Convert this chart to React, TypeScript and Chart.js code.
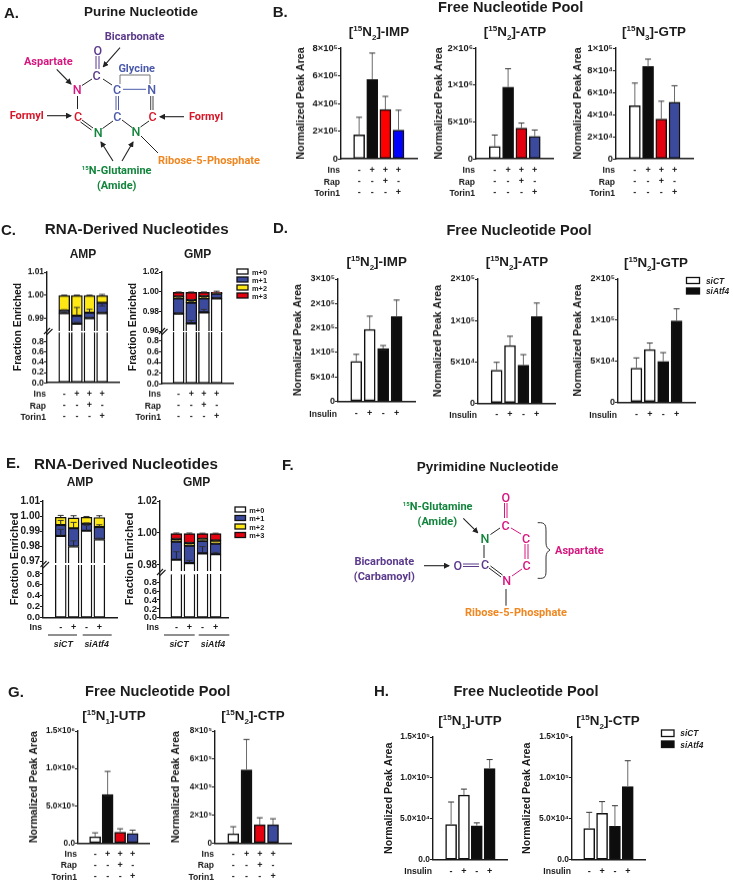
import React, { useEffect, useRef } from "react";
import { Chart, registerables } from "chart.js";

Chart.register(...registerables);

const FONT = '"Liberation Sans", Arial, sans-serif';
const INK = "#1a1a1a";
const WHITE = "#ffffff";
const BLACK = "#0d0d0d";
const RED = "#e3000f";
const PURE_RED = "#ff0000";
const INDIGO = "#3c4a9e";
const PURE_BLUE = "#0000ff";
const YELLOW = "#ffe814";

const insRows = [["-", "-", "-"], ["+", "-", "-"], ["+", "+", "-"], ["+", "-", "+"]];
const insulinRows = ["-", "+", "-", "+"];
const treatmentNames = ["Ins", "Rap", "Torin1"];
const insulinNames = ["Insulin"];
const insNames = ["Ins"];

// Panel B
const bImp = [172000, 573000, 356000, 208000];
const bImpErr = [300000, 764000, 451000, 351000];
const bAtp = [166000, 972000, 416000, 305000];
const bAtpErr = [322000, 1220000, 484000, 390000];
const bGtp = [48000, 83300, 35800, 51000];
const bGtpErr = [68400, 90000, 52000, 66000];
// Panel D
const dImp = [81500, 147000, 108000, 173000];
const dImpErr = [96000, 174000, 114000, 207000];
const dAtp = [39600, 69500, 45700, 104700];
const dAtpErr = [49300, 80800, 58600, 121000];
const dGtp = [41200, 64000, 49700, 99000];
const dGtpErr = [53800, 72000, 60300, 113700];
// Panel G
const gUtp = [85000, 652000, 147000, 129000];
const gUtpErr = [138000, 960000, 192000, 174000];
const gCtp = [67000, 523000, 131000, 131000];
const gCtpErr = [117000, 740000, 181000, 174000];
// Panel H
const hUtp = [43000, 79000, 41400, 111500];
const hUtpErr = [70500, 86300, 45000, 122400];
const hCtp = [38000, 56700, 40800, 89300];
const hCtpErr = [57900, 71000, 66000, 121000];

// Isotopologue fractions
const cAmp = [[0.9924, 0.9878, 0.9902, 0.9924], [0.001, 0.0034, 0.0023, 0.0044], [0.0065, 0.0087, 0.0074, 0.0031]];
const cAmpErr = [[0.9928, 0.9885, 0.9906, 0.9927], [0.9938, 0.9948, 0.994, 0.9954], [1.0001, 1.0001, 1.0001, 1.0004]];
const cGmp = [[0.9776, 0.9678, 0.979, 0.9932], [0.0156, 0.021, 0.0142, 0.0048], [0.0017, 0.0027, 0.0021, 0.0003], [0.0044, 0.0078, 0.004, 0.001]];
const cGmpErr = [[0.9782, 0.9708, 0.982, 0.9937], [0.9938, 0.9898, 0.9938, 0.9985], [0.9952, 0.9921, 0.9958, 0.9985], [0.9997, 0.9997, 0.9997, 1.0005]];
const eAmp = [[0.987, 0.98, 0.9904, 0.9846], [0.0071, 0.012, 0.0046, 0.0082], [0.0052, 0.0069, 0.0043, 0.0063]];
const eAmpErr = [[0.9913, 0.9837, 0.9939, 0.9855], [0.9972, 0.9959, 0.9955, 0.9943], [1.0005, 1.0003, 0.9998, 1.0003]];
const eGmp = [[0.9833, 0.9812, 0.9873, 0.9867], [0.0113, 0.0109, 0.0077, 0.0066], [0.0014, 0.0016, 0.0012, 0.0019], [0.0036, 0.0059, 0.0034, 0.0044]];
const eGmpErr = [[0.9883, 0.9829, 0.9915, 0.9879], [0.995, 0.9925, 0.9955, 0.9936], [0.9967, 0.9942, 0.9968, 0.9956], [1, 1, 0.9999, 0.9999]];
const massLabels = ["m+0", "m+1", "m+2", "m+3"];
const massColors = [WHITE, INDIGO, YELLOW, RED];

const lowerTicks = [0, 0.2, 0.4, 0.6, 0.8];
const lowerLabels = ["0.0", "0.2", "0.4", "0.6", "0.8"];

const treatColors = [WHITE, BLACK, RED, INDIGO];
const atf4Colors = [WHITE, WHITE, BLACK, BLACK];

type Simple = {
  rect: number[]; centers: number[]; titleX: number; yMax: number; ticks: number[]; labels: string[];
  values: number[]; err: number[]; colors: string[]; rows: any[]; names: string[]; rowY: number; tickSize: number;
};

const simplePanels: Simple[] = [
  { rect: [341, 48, 417, 159], centers: [352.5, 405], titleX: 301.3, yMax: 800000, ticks: [0, 200000, 400000, 600000, 800000], labels: ["0", "2×10⁵", "4×10⁵", "6×10⁵", "8×10⁵"], values: bImp, err: bImpErr, colors: [WHITE, BLACK, PURE_RED, PURE_BLUE], rows: insRows, names: treatmentNames, rowY: 170, tickSize: 9.4 },
  { rect: [476, 48, 553, 159], centers: [488.2, 541.5], titleX: 439.3, yMax: 1500000, ticks: [0, 500000, 1000000, 1500000], labels: ["0", "5×10⁵", "1×10⁶", "2×10⁶"], values: bAtp, err: bAtpErr, colors: treatColors, rows: insRows, names: treatmentNames, rowY: 170, tickSize: 9.4 },
  { rect: [616, 48, 693, 159], centers: [628.3, 681.2], titleX: 578.3, yMax: 100000, ticks: [0, 20000, 40000, 60000, 80000, 100000], labels: ["0", "2×10⁴", "4×10⁴", "6×10⁴", "8×10⁴", "1×10⁵"], values: bGtp, err: bGtpErr, colors: treatColors, rows: insRows, names: treatmentNames, rowY: 170, tickSize: 9.4 },
  { rect: [338, 279, 415, 401], centers: [349.5, 403.3], titleX: 298.3, yMax: 250000, ticks: [0, 50000, 100000, 150000, 200000, 250000], labels: ["0", "5×10⁴", "1×10⁵", "2×10⁵", "2×10⁵", "3×10⁵"], values: dImp, err: dImpErr, colors: atf4Colors, rows: insulinRows, names: insulinNames, rowY: 413.3, tickSize: 9 },
  { rect: [478, 279, 555, 403], centers: [490, 543.5], titleX: 438.3, yMax: 150000, ticks: [0, 50000, 100000, 150000], labels: ["0", "5×10⁴", "1×10⁵", "2×10⁵"], values: dAtp, err: dAtpErr, colors: atf4Colors, rows: insulinRows, names: insulinNames, rowY: 414.5, tickSize: 9 },
  { rect: [618, 279, 695, 402], centers: [629.7, 683.3], titleX: 578.3, yMax: 150000, ticks: [0, 50000, 100000, 150000], labels: ["0", "5×10⁴", "1×10⁵", "2×10⁵"], values: dGtp, err: dGtpErr, colors: atf4Colors, rows: insulinRows, names: insulinNames, rowY: 414.5, tickSize: 9 },
  { rect: [78, 731, 149, 843], centers: [89, 139], titleX: 34, yMax: 1500000, ticks: [0, 500000, 1000000, 1500000], labels: ["0.0", "5.0×10⁵", "1.0×10⁶", "1.5×10⁶"], values: gUtp, err: gUtpErr, colors: treatColors, rows: insRows, names: treatmentNames, rowY: 853.7, tickSize: 8.2 },
  { rect: [215, 731, 291, 843], centers: [226.7, 279.7], titleX: 176, yMax: 800000, ticks: [0, 200000, 400000, 600000, 800000], labels: ["0", "2×10⁵", "4×10⁵", "6×10⁵", "8×10⁵"], values: gCtp, err: gCtpErr, colors: treatColors, rows: insRows, names: treatmentNames, rowY: 853.7, tickSize: 8.2 },
  { rect: [433, 737, 507, 860], centers: [444.8, 496.2], titleX: 389.3, yMax: 150000, ticks: [0, 50000, 100000, 150000], labels: ["0.0", "5.0×10⁴", "1.0×10⁵", "1.5×10⁵"], values: hUtp, err: hUtpErr, colors: atf4Colors, rows: insulinRows, names: insulinNames, rowY: 872, tickSize: 8.4 },
  { rect: [572, 737, 645, 860], centers: [582.8, 634.2], titleX: 527.7, yMax: 150000, ticks: [0, 50000, 100000, 150000], labels: ["0.0", "5.0×10⁴", "1.0×10⁵", "1.5×10⁵"], values: hCtp, err: hCtpErr, colors: atf4Colors, rows: insulinRows, names: insulinNames, rowY: 872, tickSize: 8.4 },
];

type Broken = {
  upper: number[]; lower: number[]; centers: number[]; upperMin: number; upperMax: number; lowerMax: number;
  ticks: number[]; labels: string[]; seg: number[][]; segErr: number[][]; rows: any[]; names: string[]; rowY: number; tickSize: number; lowerSize: number;
};

const brokenPanels: Broken[] = [
  { upper: [47, 272, 119, 330.5], lower: [47, 332, 119, 383], centers: [58, 108.5], upperMin: 0.9847, upperMax: 1.01, lowerMax: 0.995, ticks: [0.99, 1, 1.01], labels: ["0.99", "1.00", "1.01"], seg: cAmp, segErr: cAmpErr, rows: insRows, names: treatmentNames, rowY: 394, tickSize: 8.4, lowerSize: 8.8 },
  { upper: [162, 272, 233, 331], lower: [162, 332, 233, 384], centers: [172.3, 223], upperMin: 0.96, upperMax: 1.02, lowerMax: 0.969, ticks: [0.96, 0.98, 1, 1.02], labels: ["0.96", "0.98", "1.00", "1.02"], seg: cGmp, segErr: cGmpErr, rows: insRows, names: treatmentNames, rowY: 394, tickSize: 8.4, lowerSize: 8.8 },
  { upper: [43, 501, 117, 563], lower: [43, 565, 117, 618], centers: [54.3, 105.8], upperMin: 0.9691, upperMax: 1.01, lowerMax: 0.962, ticks: [0.97, 0.98, 0.99, 1, 1.01], labels: ["0.97", "0.98", "0.99", "1.00", "1.01"], seg: eAmp, segErr: eAmpErr, rows: insulinRows, names: insNames, rowY: 628, tickSize: 10, lowerSize: 9.6 },
  { upper: [160, 501, 228, 571], lower: [160, 573, 228, 618], centers: [170.5, 222.8], upperMin: 0.97625, upperMax: 1.02, lowerMax: 1.01, ticks: [0.98, 1, 1.02], labels: ["0.98", "1.00", "1.02"], seg: eGmp, segErr: eGmpErr, rows: insulinRows, names: insNames, rowY: 628, tickSize: 10, lowerSize: 9.6 },
];

const errorBars = {
  id: "errorBars",
  afterDatasetsDraw(chart: any) {
    const { ctx, chartArea: a } = chart;
    const xs = chart.scales.x;
    const ys = chart.scales.y;
    ctx.save();
    ctx.beginPath();
    ctx.rect(a.left, a.top - 4, a.right - a.left, a.bottom - a.top + 4);
    ctx.clip();
    chart.data.datasets.forEach((ds: any, di: number) => {
      if (!ds.errTop) return;
      ds.errTop.forEach((top: number, i: number) => {
        const x = xs.getPixelForValue(i);
        let base = ds.data[i];
        if (ds.stack) for (let k = 0; k < di; k++) base += chart.data.datasets[k].data[i];
        ctx.strokeStyle = ds.stack ? "#222" : "#6b6b6b";
        ctx.lineWidth = 1;
        ctx.beginPath();
        ctx.moveTo(x, ys.getPixelForValue(base));
        ctx.lineTo(x, ys.getPixelForValue(top));
        ctx.stroke();
        ctx.strokeStyle = "#333";
        ctx.beginPath();
        ctx.moveTo(x - 3, ys.getPixelForValue(top));
        ctx.lineTo(x + 3, ys.getPixelForValue(top));
        ctx.stroke();
      });
    });
    ctx.restore();
  },
};

const LINE = 11.3;

const rowTitles = (names: string[], rowY: number) => ({
  id: "rowTitles",
  afterDraw(chart: any) {
    const { ctx } = chart;
    const first = rowY - chart.canvas.offsetTop;
    ctx.save();
    ctx.font = `bold 8.6px ${FONT}`;
    ctx.fillStyle = INK;
    ctx.textAlign = "right";
    ctx.textBaseline = "middle";
    names.forEach((n, i) => ctx.fillText(n, chart.chartArea.left - 1, first + i * LINE));
    ctx.restore();
  },
});

function xRange(rect: number[], centers: number[]) {
  const sp = (centers[1] - centers[0]) / 3;
  return { min: (rect[0] - centers[0]) / sp, max: (rect[2] - centers[0]) / sp };
}

function yScale(min: number, max: number, ticks: number[], labels: string[], width: number, size: number, title?: any) {
  return {
    type: "linear",
    min,
    max,
    stacked: false,
    afterBuildTicks: (s: any) => { s.ticks = ticks.map((value) => ({ value })); },
    afterFit: (s: any) => { s.width = width; },
    border: { display: true, color: INK, width: 1.4 },
    grid: { drawOnChartArea: false, drawTicks: true, tickLength: 3, tickColor: INK, tickWidth: 1.2 },
    ticks: {
      autoSkip: false, padding: 0, color: INK, maxRotation: 0, minRotation: 0,
      font: { family: FONT, size, weight: "bold" },
      callback: (_: any, i: number) => labels[i],
    },
    title,
  };
}

function xScale(rect: number[], centers: number[], rows: any[], rowY: number, height: number) {
  return {
    type: "linear",
    ...xRange(rect, centers),
    stacked: false,
    afterBuildTicks: (s: any) => { s.ticks = rows.map((_, value) => ({ value })); },
    afterFit: (s: any) => { s.height = height; },
    border: { display: true, color: INK, width: 1.4 },
    grid: { display: false, drawTicks: false },
    ticks: {
      autoSkip: false, maxRotation: 0, minRotation: 0, color: INK,
      padding: rowY - rect[3] - LINE / 2,
      font: { family: FONT, size: 9, weight: "bold", lineHeight: `${LINE}px` },
      callback: (_: any, i: number) => rows[i],
    },
  };
}

function simpleSpec(p: Simple) {
  const [l, t, r, b] = p.rect;
  const cx = Math.floor(p.titleX - 7);
  const cy = t - 8;
  const cw = r + 8 - cx;
  const ch = p.rowY + p.rows[0].length * LINE + 4 - cy;
  const yw = l - cx;
  const barT = 11;
  return {
    style: { left: cx, top: cy, width: cw, height: ch },
    config: {
      type: "bar",
      data: {
        labels: p.rows.map((_, i) => i),
        datasets: [{
          data: p.values, errTop: p.err, backgroundColor: p.colors, borderColor: "#111", borderWidth: 1.5,
          borderSkipped: false, barThickness: barT, clip: 0,
        }],
      },
      options: {
        animation: false, responsive: false, devicePixelRatio: 1,
        layout: { padding: { top: 8, right: 8, left: 0, bottom: 0 } },
        plugins: { legend: { display: false }, tooltip: { enabled: false } },
        scales: {
          x: xScale(p.rect, p.centers, p.rows, p.rowY, ch - (b - cy)),
          y: yScale(0, p.yMax, p.ticks, p.labels, yw, p.tickSize, {
            display: true, text: "Normalized Peak Area", color: INK, padding: { top: p.titleX - cx - 6.6, bottom: 0 },
            font: { family: FONT, size: 10.6, weight: "bold", lineHeight: 1.2 },
          }),
        },
      },
      plugins: [errorBars, rowTitles(p.names, p.rowY)],
    },
  };
}

function upperSpec(p: Broken) {
  const [l, t, r, b] = p.upper;
  const cx = 20;
  const cy = t - 8;
  const ch = b + 8 - cy;
  const cw = r + 8 - cx;
  const datasets = p.seg.map((values, i) => ({
    data: values, errTop: p.segErr[i], stack: "iso", backgroundColor: massColors[i], borderColor: "#111", borderWidth: 1.4,
    borderSkipped: false, barThickness: 11, clip: 0, label: massLabels[i],
  }));
  const x: any = xScale(p.upper, p.centers, p.rows, p.rowY, 0);
  x.display = false;
  x.stacked = true;
  const y: any = yScale(p.upperMin, p.upperMax, p.ticks, p.labels, l - cx, p.tickSize);
  y.stacked = true;
  return {
    style: { left: cx, top: cy, width: cw, height: ch },
    config: {
      type: "bar",
      data: { labels: p.rows.map((_, i) => i), datasets },
      options: {
        animation: false, responsive: false, devicePixelRatio: 1,
        layout: { padding: { top: 8, right: 8, left: 0, bottom: 8 } },
        plugins: { legend: { display: false }, tooltip: { enabled: false } },
        scales: { x, y },
      },
      plugins: [errorBars],
    },
  };
}

function lowerSpec(p: Broken) {
  const [l, t, r, b] = p.lower;
  const cx = 20;
  const cy = t - 8;
  const ch = p.rowY + p.rows[0].length * LINE + 4 - cy;
  const cw = r + 8 - cx;
  return {
    style: { left: cx, top: cy, width: cw, height: ch },
    config: {
      type: "bar",
      data: {
        labels: p.rows.map((_, i) => i),
        datasets: [{
          data: p.seg[0], backgroundColor: WHITE, borderColor: "#111", borderWidth: 1.4,
          borderSkipped: "top", barThickness: 11, clip: 0,
        }],
      },
      options: {
        animation: false, responsive: false, devicePixelRatio: 1,
        layout: { padding: { top: 8, right: 8, left: 0, bottom: 0 } },
        plugins: { legend: { display: false }, tooltip: { enabled: false } },
        scales: {
          x: xScale(p.lower, p.centers, p.rows, p.rowY, ch - (b - cy)),
          y: yScale(0, p.lowerMax, lowerTicks, lowerLabels, l - cx, p.lowerSize),
        },
      },
      plugins: [rowTitles(p.names, p.rowY)],
    },
  };
}

function ChartBox({ spec }: { spec: any }) {
  const ref = useRef<HTMLCanvasElement>(null);
  useEffect(() => {
    const chart = new Chart(ref.current as any, spec.config);
    return () => chart.destroy();
  }, [spec]);
  return <canvas ref={ref} width={spec.style.width} height={spec.style.height} style={{ position: "absolute", ...spec.style }} />;
}

const specs = [
  ...simplePanels.map(simpleSpec),
  ...brokenPanels.map(upperSpec),
  ...brokenPanels.map(lowerSpec),
];

function Label({ x, y, size, children, align = "center", color = "#1c1c1c" }: any) {
  const tx = align === "center" ? "-50%" : "0";
  return (
    <div style={{ position: "absolute", left: x, top: y, transform: `translate(${tx},-50%)`, whiteSpace: "nowrap", fontFamily: FONT, fontWeight: 700, fontSize: size, color, lineHeight: 1 }}>
      {children}
    </div>
  );
}

const iso = (n: string, name: string) => (
  <>
    [<sup style={{ fontSize: "60%", lineHeight: 0 }}>15</sup>N<sub style={{ fontSize: "60%", lineHeight: 0 }}>{n}</sub>]-{name}
  </>
);

const titles = [
  { x: 379, y: 32, n: "2", name: "IMP" }, { x: 515, y: 32, n: "2", name: "ATP" }, { x: 654, y: 32, n: "3", name: "GTP" },
  { x: 376.7, y: 262, n: "2", name: "IMP" }, { x: 517, y: 262, n: "2", name: "ATP" }, { x: 656, y: 263, n: "2", name: "GTP" },
  { x: 114, y: 716, n: "1", name: "UTP" }, { x: 253, y: 716, n: "2", name: "CTP" },
  { x: 470, y: 721, n: "1", name: "UTP" }, { x: 608, y: 721, n: "2", name: "CTP" },
];
const letters = [
  ["A.", 4, 12], ["B.", 272.7, 11], ["C.", 1, 229], ["D.", 273, 227], ["E.", 6, 462], ["F.", 282, 464], ["G.", 8, 691], ["H.", 374, 690],
];
const heads = [
  ["Purine Nucleotide", 141, 12, 13.4], ["Free Nucleotide Pool", 510.7, 7, 14.6], ["RNA-Derived Nucleotides", 136.7, 229, 15.2],
  ["Free Nucleotide Pool", 519, 229.7, 14.6], ["RNA-Derived Nucleotides", 126, 463.7, 15.2], ["Pyrimidine Nucleotide", 487.7, 466.7, 13.5],
  ["Free Nucleotide Pool", 157.7, 691, 14.6], ["Free Nucleotide Pool", 526, 691, 14.6],
  ["AMP", 83, 253.7, 12], ["GMP", 197.7, 253.7, 12], ["AMP", 80, 482, 12], ["GMP", 196.7, 482, 12],
];

const C = { purple: "#5b3a8c", pink: "#d6177f", red: "#d7182a", blue: "#4a5aab", green: "#12853c", orange: "#f0861f" };

function T({ x, y, c, s = 11, children, anchor = "middle", w = 700 }: any) {
  return (
    <text x={x} y={y} fill={c} fontFamily="Roboto, sans-serif" fontWeight={w} fontSize={s} textAnchor={anchor} dominantBaseline="central">
      {children}
    </text>
  );
}
function L({ d, c = "#222", w = 1 }: any) {
  return <path d={d} stroke={c} strokeWidth={w} fill="none" />;
}
function A({ d }: any) {
  return <path d={d} stroke="#222" strokeWidth={1.1} fill="none" markerEnd="url(#ah)" />;
}

function Legend({ x, ys, colors, names, tx, tys, italic, size, w, h }: any) {
  return (
    <g>
      {names.map((n: string, i: number) => (
        <g key={n}>
          <rect x={x} y={ys[i]} width={w} height={h} fill={colors[i]} stroke="#111" strokeWidth={1.3} />
          <text x={tx} y={tys[i]} fontFamily={FONT} fontWeight={700} fontStyle={italic ? "italic" : "normal"} fontSize={size} fill="#1c1c1c" dominantBaseline="central">{n}</text>
        </g>
      ))}
    </g>
  );
}

function VTitle({ x, y, s, text }: any) {
  return (
    <text transform={`translate(${x},${y}) rotate(-90)`} fontFamily={FONT} fontWeight={700} fontSize={s} fill={INK} textAnchor="middle" dominantBaseline="central">{text}</text>
  );
}

const ATOM = 12.5;

function Overlay() {
  return (
    <svg width={733} height={881} style={{ position: "absolute", left: 0, top: 0, pointerEvents: "none" }}>
      <defs>
        <marker id="ah" markerWidth="6" markerHeight="6" refX="5" refY="3" orient="auto" markerUnits="userSpaceOnUse">
          <path d="M0,0 L6,3 L0,6 Z" fill="#222" />
        </marker>
      </defs>

      {/* Structure A */}
      <T x={134.7} y={36.7} c={C.purple}>Bicarbonate</T>
      <T x={48.3} y={61} c={C.pink}>Aspartate</T>
      <T x={136.7} y={68} c={C.blue}>Glycine</T>
      <T x={26.7} y={115.7} c={C.red}>Formyl</T>
      <T x={206} y={116} c={C.red}>Formyl</T>
      <T x={209} y={160.7} c={C.orange}>Ribose-5-Phosphate</T>
      <T x={116.7} y={170.3} c={C.green}><tspan fontSize={6} dy={-3}>15</tspan><tspan dy={3}>N-Glutamine</tspan></T>
      <T x={116.7} y={185.3} c={C.green}>(Amide)</T>
      <T x={97.7} y={50} c={C.purple} s={ATOM} w={500}>O</T>
      <T x={96.7} y={75.3} c={C.purple} s={ATOM} w={500}>C</T>
      <T x={77.3} y={89.3} c={C.pink} s={ATOM} w={500}>N</T>
      <T x={78} y={116} c={C.red} s={ATOM} w={500}>C</T>
      <T x={98.3} y={132} c={C.green} s={ATOM} w={500}>N</T>
      <T x={117.3} y={116.7} c={C.blue} s={ATOM} w={500}>C</T>
      <T x={117} y={89.3} c={C.blue} s={ATOM} w={500}>C</T>
      <T x={151.7} y={89.3} c={C.blue} s={ATOM} w={500}>N</T>
      <T x={152.7} y={116} c={C.red} s={ATOM} w={500}>C</T>
      <T x={136} y={131.3} c={C.green} s={ATOM} w={500}>N</T>
      <L d="M92,79 L82,85.5 M103,79 L112,85 M77.5,96 L77.5,109 M82,120 L93,128 M80.5,122 L91.5,130 M102.5,128.5 L113,121 M149,121 L140.5,127 M122,120 L132,127.5 M141,136 L158,153" />
      <L d="M150.7,96 L150.7,110 M153,96 L153,110" c="#444" />
      <L d="M116,96 L116,110 M118.5,96 L118.5,110 M123,89.3 L146,89.3" c={C.blue} />
      <L d="M96,56 L96,69 M99,56 L99,69" c={C.purple} />
      <L d="M120,84 L120,75 L150,75 L150,84" c="#777" />
      <A d="M120,47.7 L103.3,66.7" />
      <A d="M56.7,69.3 L71,84" />
      <A d="M47,115.7 L71,115.7" />
      <A d="M184,116.7 L160,116.7" />
      <A d="M113,161 L101,142" />
      <A d="M122,161 L133,142" />

      {/* Structure F */}
      <T x={437.7} y={505.7} c={C.green}><tspan fontSize={6} dy={-3}>15</tspan><tspan dy={3}>N-Glutamine</tspan></T>
      <T x={437.3} y={521} c={C.green}>(Amide)</T>
      <T x={384.3} y={561} c={C.purple}>Bicarbonate</T>
      <T x={384.3} y={576} c={C.purple}>(Carbamoyl)</T>
      <T x={555} y={550} c={C.pink} anchor="start">Aspartate</T>
      <T x={516} y={612.7} c={C.orange}>Ribose-5-Phosphate</T>
      <T x={505.7} y={497.7} c={C.pink} s={ATOM} w={500}>O</T>
      <T x={505.7} y={525} c={C.pink} s={ATOM} w={500}>C</T>
      <T x={526} y={538.3} c={C.pink} s={ATOM} w={500}>C</T>
      <T x={526.7} y={565} c={C.pink} s={ATOM} w={500}>C</T>
      <T x={506.7} y={580} c={C.pink} s={ATOM} w={500}>N</T>
      <T x={485} y={564.3} c={C.purple} s={ATOM} w={500}>C</T>
      <T x={457.7} y={565} c={C.purple} s={ATOM} w={500}>O</T>
      <T x={485} y={538.3} c={C.green} s={ATOM} w={500}>N</T>
      <L d="M504.5,503 L504.5,518 M507,503 L507,518 M511,528 L521,534 M525,544 L525,559 M528,544 L528,559 M522,569 L512,576" c={C.pink} />
      <L d="M500,528 L490.5,534.5 M489,568 L501,577 M490.5,566 L502.5,575 M484,545 L484,558 M506,589 L506,605.7" />
      <L d="M463,564 L479,564 M463,566.5 L479,566.5" c={C.purple} />
      <A d="M463.3,518.3 L477.7,532.7" />
      <A d="M424,565.7 L449,565.7" />
      <path d="M537.7,522.7 C546,522 546,526 546,532 L546,543 C546,547 548,549 550,550 C548,551 546,553 546,557 L546,570 C546,576 546,579 537.7,578.3" stroke="#333" strokeWidth={1} fill="none" />

      {/* Legends */}
      <Legend x={237} ys={[269, 277, 285, 293]} w={11} h={5} colors={massColors} names={massLabels} tx={252} tys={[272, 280, 288.3, 296.7]} size={7.4} />
      <Legend x={235} ys={[507, 515.5, 524, 532.5]} w={10.5} h={5} colors={massColors} names={massLabels} tx={249.3} tys={[510, 518.3, 527, 535]} size={7.4} />
      <Legend x={686.5} ys={[277.5, 288]} w={13} h={6} colors={[WHITE, BLACK]} names={["siCT", "siAtf4"]} tx={706} tys={[281, 291]} italic size={8.3} />
      <Legend x={661.5} ys={[730, 741]} w={12.5} h={6.5} colors={[WHITE, BLACK]} names={["siCT", "siAtf4"]} tx={680.3} tys={[733.3, 744.7]} italic size={8.3} />

      {/* Axis titles and breaks on the split axes */}
      <VTitle x={17.3} y={327} s={10.4} text="Fraction Enriched" />
      <VTitle x={132} y={327} s={10.4} text="Fraction Enriched" />
      <VTitle x={13.5} y={559} s={10.9} text="Fraction Enriched" />
      <VTitle x={129.3} y={559} s={10.9} text="Fraction Enriched" />
      <L d="M44,334 L50,328 M46.5,335 L52.5,329" w={1.1} />
      <L d="M159,334 L165,328 M161.5,335 L167.5,329" w={1.1} />
      <L d="M40.5,567 L46.5,561 M43,568 L49,562" w={1.1} />
      <L d="M157,575 L163,569 M159.5,576 L165.5,570" w={1.1} />

      {/* Group rules for panel E */}
      <L d="M48,635 L77,635 M82.7,635 L111.7,635 M164,635 L194.7,635 M198.7,635 L229.3,635" w={1.2} />
      {[["siCT", 63.3], ["siAtf4", 96.7], ["siCT", 179], ["siAtf4", 213]].map(([t, x]: any, i) => (
        <text key={i} x={x} y={644.3} fontFamily={FONT} fontWeight={700} fontStyle="italic" fontSize={8.8} fill="#1c1c1c" textAnchor="middle" dominantBaseline="central">{t}</text>
      ))}
    </svg>
  );
}

export default function App() {
  return (
    <div style={{ position: "absolute", left: 0, top: 0, width: 733, height: 881, overflow: "hidden", background: "#fff" }}>
      {specs.map((s, i) => <ChartBox key={i} spec={s} />)}
      <Overlay />
      {letters.map(([t, x, y]: any) => <Label key={t} x={x} y={y} size={15} align="left">{t}</Label>)}
      {heads.map(([t, x, y, s]: any, i) => <Label key={i} x={x} y={y} size={s}>{t}</Label>)}
      {titles.map((t, i) => <Label key={i} x={t.x} y={t.y} size={13.4}>{iso(t.n, t.name)}</Label>)}
    </div>
  );
}
